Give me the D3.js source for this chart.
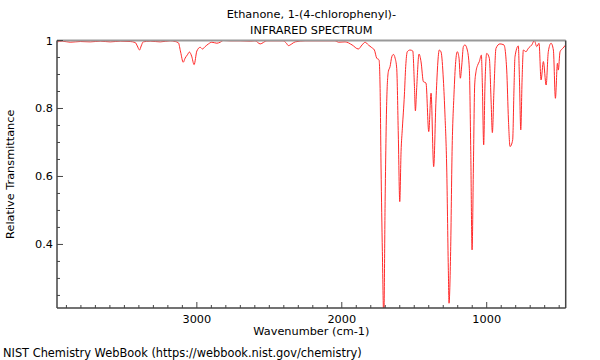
<!DOCTYPE html>
<html><head><meta charset="utf-8">
<script src="https://cdn.jsdelivr.net/npm/d3@7/dist/d3.min.js"></script>
<style>
html,body{margin:0;padding:0;background:#fff;}
text{font-family:"DejaVu Sans",sans-serif;fill:#000;}
</style></head>
<body><svg id="c" width="600" height="360"></svg>
<script>
const titleLines = ["Ethanone, 1-(4-chlorophenyl)-", "INFRARED SPECTRUM"];
const xLabel = "Wavenumber (cm-1)";
const yLabel = "Relative Transmittance";
const footer = "NIST Chemistry WebBook (https://webbook.nist.gov/chemistry)";
const xDomain = [3965, 455];
const yDomain = [0.213, 1.0];
const xTicks = [3000, 2000, 1000];
const yTicks = [1, 0.8, 0.6, 0.4];
const yTickLabels = ["1", "0.8", "0.6", "0.4"];
const wavenumbers = [3964,3929,3874,3805,3736,3667,3598,3529,3460,3425,3411,3396,3384,3370,3322,3253,3184,3149,
3127,3112,3094,3081,3065,3051,3036,3019,3000,2977,2961,2943,2920,2897,2862,2839,2817,2770,2701,2632,2598,2563,2517,
2460,2405,2384,2368,2345,2322,2253,2184,2115,2046,2023,1977,1929,1886,1860,1839,1817,1793,1775,1759,1743,1736,1729,
1720,1710,1701,1690,1679,1667,1655,1644,1632,1621,1610,1600,1591,1582,1568,1559,1548,1529,1510,1499,1492,1484,1467,
1453,1437,1419,1400,1384,1366,1350,1327,1315,1299,1288,1276,1265,1260,1249,1239,1226,1214,1203,1191,1182,1172,1161,
1150,1134,1120,1110,1101,1092,1083,1074,1062,1051,1037,1030,1021,1012,1000,982,970,961,950,936,909,881,862,850,839,
821,812,805,782,774,765,756,747,729,713,689,671,655,639,625,609,590,575,556,540,526,512,506,494,475,455];
const transmittance = [0.996,0.998,0.995,0.997,0.996,0.998,0.996,0.998,0.997,0.994,0.984,0.972,0.984,0.996,0.998,0.996,0.999,0.997,
0.993,0.966,0.936,0.948,0.958,0.966,0.954,0.929,0.969,0.980,0.975,0.982,0.990,0.995,0.992,0.995,1.000,0.999,0.999,0.998,0.999,0.990,0.999,
0.999,0.999,0.993,0.985,0.990,0.996,0.999,0.999,0.999,0.999,0.995,0.996,0.987,0.975,0.987,0.995,0.987,0.979,0.972,0.948,0.943,0.869,0.625,
0.379,0.18,0.526,0.820,0.908,0.923,0.952,0.959,0.948,0.918,0.722,0.526,0.673,0.742,0.840,0.923,0.967,0.972,0.969,0.869,0.793,0.854,0.960,
0.937,0.879,0.875,0.732,0.845,0.629,0.825,0.972,0.966,0.884,0.781,0.625,0.331,0.227,0.379,0.673,0.840,0.938,0.967,0.948,0.889,0.928,0.982,
0.987,0.972,0.918,0.673,0.384,0.625,0.869,0.908,0.928,0.938,0.957,0.869,0.693,0.869,0.962,0.948,0.825,0.729,0.854,0.977,0.990,0.987,0.913,0.766,0.688,
0.707,0.854,0.952,0.984,0.884,0.737,0.884,0.972,0.967,0.977,0.987,1.000,0.982,0.992,0.884,0.938,0.869,0.967,0.992,0.972,0.830,0.933,0.913,0.967,0.977,0.987];

const svg = d3.select("#c");
const m = {l:57, r:565.7, t:40.5, b:308};
const x = d3.scaleLinear().domain(xDomain).range([m.l, m.r]);
const y = d3.scaleLinear().domain(yDomain).range([m.b, m.t]);
const fs = 11.3;

svg.append("defs").append("clipPath").attr("id","clip")
  .append("rect").attr("x", m.l).attr("y", m.t-1).attr("width", m.r-m.l).attr("height", m.b-m.t+1);

// title
svg.selectAll("text.title").data(titleLines).enter().append("text")
  .attr("class","title").attr("x",(m.l+m.r)/2).attr("y",(d,i)=>18+i*16)
  .attr("text-anchor","middle").attr("font-size",fs).text(d=>d);

// line
const pts = wavenumbers.map((w,i)=>[w, transmittance[i]]);
svg.append("path").datum(pts).attr("clip-path","url(#clip)")
  .attr("fill","none").attr("stroke","#ff2a2a").attr("stroke-width",1)
  .attr("d", d3.line().x(d=>x(d[0])).y(d=>y(d[1])).curve(d3.curveMonotoneX));

// frame
const axisColor = "#444";
svg.append("line").attr("x1",m.l).attr("x2",m.r).attr("y1",m.t).attr("y2",m.t).attr("stroke","#999").attr("stroke-width",2);
svg.append("line").attr("x1",m.l).attr("x2",m.l).attr("y1",m.t).attr("y2",m.b).attr("stroke",axisColor).attr("stroke-width",1.5);
svg.append("line").attr("x1",m.r).attr("x2",m.r).attr("y1",m.t).attr("y2",m.b).attr("stroke",axisColor).attr("stroke-width",1.5);
svg.append("line").attr("x1",m.l).attr("x2",m.r).attr("y1",m.b).attr("y2",m.b).attr("stroke",axisColor).attr("stroke-width",1.5);

// x ticks
const xMinor = d3.range(3900, 400, -100).filter(v=>v<=xDomain[0] && v>=xDomain[1] && !xTicks.includes(v));
svg.selectAll("line.xmin").data(xMinor).enter().append("line")
  .attr("x1",d=>x(d)).attr("x2",d=>x(d)).attr("y1",m.b).attr("y2",m.b-3).attr("stroke",axisColor);
svg.selectAll("line.xmaj").data(xTicks).enter().append("line")
  .attr("x1",d=>x(d)).attr("x2",d=>x(d)).attr("y1",m.b).attr("y2",m.b-6).attr("stroke",axisColor);
svg.selectAll("text.xt").data(xTicks).enter().append("text")
  .attr("x",d=>x(d)).attr("y",m.b+15).attr("text-anchor","middle").attr("font-size",fs).text(d=>d);

// y ticks
const yMinor = d3.range(0.25, 1.0, 0.05).map(v=>+v.toFixed(2)).filter(v=>!yTicks.includes(v));
svg.selectAll("line.ymin").data(yMinor).enter().append("line")
  .attr("x1",m.l).attr("x2",m.l+3).attr("y1",d=>y(d)).attr("y2",d=>y(d)).attr("stroke",axisColor);
svg.selectAll("line.ymaj").data(yTicks).enter().append("line")
  .attr("x1",m.l).attr("x2",m.l+6).attr("y1",d=>y(d)).attr("y2",d=>y(d)).attr("stroke",axisColor);
svg.selectAll("text.yt").data(yTicks).enter().append("text")
  .attr("x",m.l-4).attr("y",d=>y(d)+4).attr("text-anchor","end").attr("font-size",fs).text((d,i)=>yTickLabels[i]);

// axis labels
svg.append("text").attr("x",(m.l+m.r)/2).attr("y",335).attr("text-anchor","middle").attr("font-size",fs).text(xLabel);
svg.append("text").attr("transform",`translate(14,${(m.t+m.b)/2}) rotate(-90)`).attr("text-anchor","middle").attr("font-size",fs).text(yLabel);
svg.append("text").attr("x",3).attr("y",357).attr("font-size",11.4).text(footer);
</script></body></html>
